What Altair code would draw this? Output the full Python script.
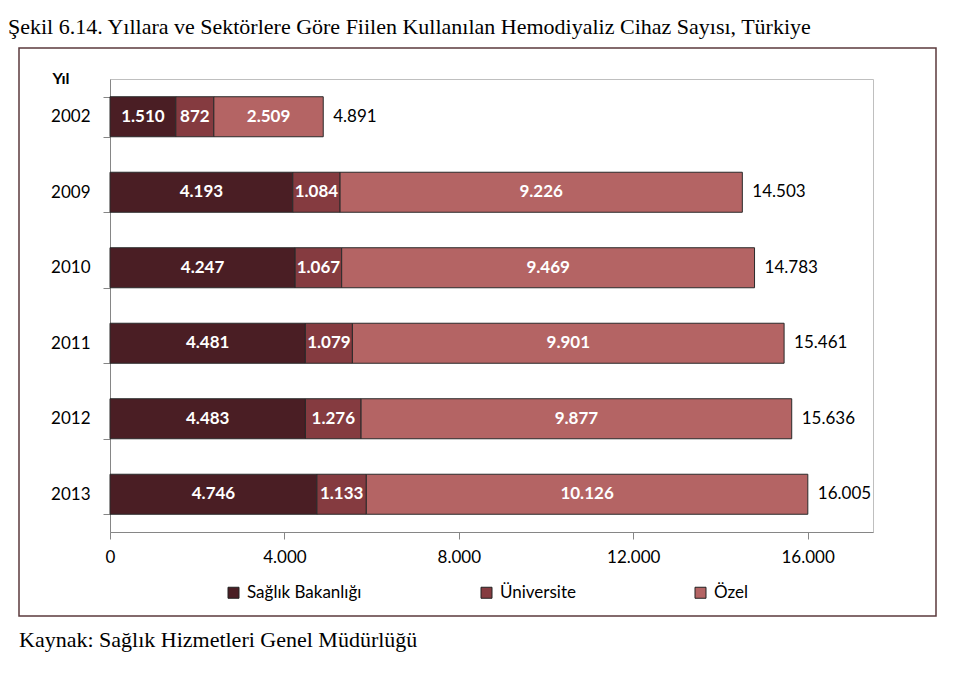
import altair as alt
import pandas as pd

years = ["2002", "2009", "2010", "2011", "2012", "2013"]
sectors = ["Sağlık Bakanlığı", "Üniversite", "Özel"]
saglik = [1510, 4193, 4247, 4481, 4483, 4746]
universite = [872, 1084, 1067, 1079, 1276, 1133]
ozel = [2509, 9226, 9469, 9901, 9877, 10126]
totals = [4891, 14503, 14783, 15461, 15636, 16005]
x_ticks = [0, 4000, 8000, 12000, 16000]
colors = ["#4A1E24", "#853B40", "#B46464"]

title_text = "Şekil 6.14. Yıllara ve Sektörlere Göre Fiilen Kullanılan Hemodiyaliz Cihaz Sayısı, Türkiye"
source_text = "Kaynak: Sağlık Hizmetleri Genel Müdürlüğü"


def tr(v):
    return f"{v:,}".replace(",", ".")


rows = []
for i, y in enumerate(years):
    for k, (s, vals) in enumerate(zip(sectors, [saglik, universite, ozel])):
        rows.append({"year": y, "sector": s, "value": vals[i], "ord": k, "label": tr(vals[i])})
df = pd.DataFrame(rows)
tot_df = pd.DataFrame({"year": years, "total": totals, "label": [tr(t) for t in totals]})

y_enc = alt.Y(
    "year:N",
    sort=years,
    scale=alt.Scale(paddingInner=0.47, paddingOuter=0.235),
    axis=alt.Axis(
        title="Yıl", titleAngle=0, titleAlign="left", titleBaseline="alphabetic",
        titleX=-58, titleY=4, titleFont="Lato", titleFontSize=16, titleFontWeight="bold",
        titleColor="#000", tickBand="extent", tickSize=7, labelPadding=13,
        domainColor="#868686", tickColor="#868686",
    ),
)
x_scale = alt.Scale(domain=[0, 17500], nice=False)
x_axis = alt.Axis(
    title=None, values=x_ticks, tickSize=7, labelPadding=10, grid=False, labelFlush=False,
    labelExpr="replace(format(datum.value, ','), ',', '.')",
    domainColor="#868686", tickColor="#868686",
)

base = alt.Chart(df).transform_stack(
    stack="value", groupby=["year"], as_=["x0", "x1"], sort=[alt.SortField("ord", order="ascending")]
).transform_calculate(mid="(datum.x0 + datum.x1) / 2")

bars = base.mark_bar(stroke="#2a2a2a", strokeWidth=1).encode(
    y=y_enc,
    x=alt.X("x0:Q", scale=x_scale, axis=x_axis),
    x2="x1:Q",
    color=alt.Color(
        "sector:N",
        scale=alt.Scale(domain=sectors, range=colors),
        legend=alt.Legend(
            orient="none", legendX=115, legendY=505, direction="horizontal", title=None,
            columns=3, columnPadding=116, symbolType="square", symbolSize=121,
            symbolStrokeColor="#222", symbolStrokeWidth=1, labelFont="Lato",
            labelFontSize=17, labelColor="#000", labelOffset=5,
        ),
    ),
)

seg_labels = base.mark_text(color="white", font="Lato", fontSize=17, fontWeight="bold", baseline="middle").encode(
    y=alt.Y("year:N", sort=years),
    x=alt.X("mid:Q", scale=x_scale),
    text="label:N",
)

tot_labels = alt.Chart(tot_df).mark_text(
    align="left", dx=10, color="#000", font="Lato", fontSize=17, baseline="middle"
).encode(
    y=alt.Y("year:N", sort=years),
    x=alt.X("total:Q", scale=x_scale),
    text="label:N",
)

box = alt.Chart(pd.DataFrame({"a": [0]})).mark_rect(
    fill="transparent", stroke="#5B3A3D", strokeWidth=1.5
).encode(
    x=alt.value(-91), x2=alt.value(826), y=alt.value(-31), y2=alt.value(537)
)

title = alt.Chart(pd.DataFrame({"t": [title_text]})).mark_text(
    align="left", baseline="alphabetic", font="Liberation Serif", fontSize=22, color="#000"
).encode(x=alt.value(-102), y=alt.value(-45), text="t:N")

source = alt.Chart(pd.DataFrame({"t": [source_text]})).mark_text(
    align="left", baseline="alphabetic", font="Liberation Serif", fontSize=22, color="#000"
).encode(x=alt.value(-91), y=alt.value(568), text="t:N")

chart = alt.layer(box, bars, seg_labels, tot_labels, title, source).properties(
    width=763, height=453,
    padding={"left": 110, "top": 79, "right": 106, "bottom": 141},
    autosize=alt.AutoSizeParams(type="none"),
    background="white",
).configure_view(stroke="#BFBFBF").configure_axis(
    labelFont="Lato", labelFontSize=17, labelColor="#000"
)

chart.save("out.html", embed_options={"renderer": "svg", "actions": False})
